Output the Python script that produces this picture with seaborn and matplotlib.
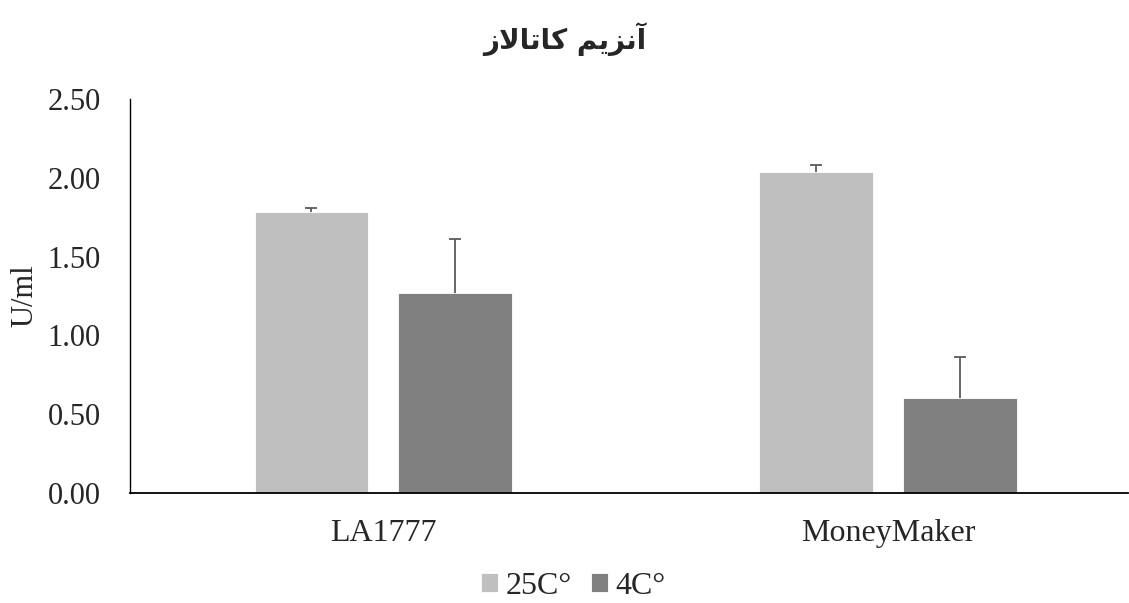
import matplotlib
matplotlib.use("Agg")
import matplotlib.pyplot as plt
import seaborn as sns
import pandas as pd
import numpy as np

# ---- data ----
categories = ["LA1777", "MoneyMaker"]
series = ["25C°", "4C°"]
values_25 = [1.78, 2.04]
values_4 = [1.27, 0.60]
err_25 = [0.03, 0.04]
err_4 = [0.34, 0.26]
yticks = [0.0, 0.5, 1.0, 1.5, 2.0, 2.5]
title_text = "آنزیم کاتالاز"
ylabel_text = "U/ml"
colors = ["#BFBFBF", "#808080"]


# minimal Arabic/Persian shaping (matplotlib has no complex text layout)
FORMS = {
    "\u0622": (0xFE81, 0xFE82, None, None),
    "\u0627": (0xFE8D, 0xFE8E, None, None),
    "\u0632": (0xFEAF, 0xFEB0, None, None),
    "\u0646": (0xFEE5, 0xFEE6, 0xFEE7, 0xFEE8),
    "\u06CC": (0xFBFC, 0xFBFD, 0xFBFE, 0xFBFF),
    "\u0645": (0xFEE1, 0xFEE2, 0xFEE3, 0xFEE4),
    "\u06A9": (0xFB8E, 0xFB8F, 0xFB90, 0xFB91),
    "\u062A": (0xFE95, 0xFE96, 0xFE97, 0xFE98),
    "\u0644": (0xFEDD, 0xFEDE, 0xFEDF, 0xFEE0),
    "LA": (0xFEFB, 0xFEFC, None, None),
}


def shape(text):
    toks = []
    i = 0
    while i < len(text):
        if text[i] == "\u0644" and i + 1 < len(text) and text[i + 1] == "\u0627":
            toks.append("LA")
            i += 2
        else:
            toks.append(text[i])
            i += 1
    out = []
    for k, t in enumerate(toks):
        if t not in FORMS:
            out.append(t)
            continue
        f = FORMS[t]
        prev = toks[k - 1] if k > 0 else None
        nxt = toks[k + 1] if k + 1 < len(toks) else None
        jp = prev in FORMS and FORMS[prev][2] is not None
        jn = f[2] is not None and nxt in FORMS
        if jp and jn:
            c = f[3]
        elif jp:
            c = f[1]
        elif jn:
            c = f[2]
        else:
            c = f[0]
        out.append(chr(c))
    return "".join(out[::-1])


df = pd.DataFrame({
    "cat": categories * 2,
    "series": [series[0]] * 2 + [series[1]] * 2,
    "val": values_25 + values_4,
})

sns.set_style("white")
plt.rcParams["font.family"] = ["Liberation Serif", "DejaVu Serif"]

fig = plt.figure(figsize=(11.29, 6.03), dpi=100)
ax = fig.add_axes([0.1151, 0.1824, 0.884, 0.6534])

sns.barplot(data=df, x="cat", y="val", hue="series", palette=colors,
            width=0.57, gap=0.21, ax=ax, errorbar=None,
            edgecolor="white", linewidth=0.6, saturation=1, zorder=2)

errs = [err_25, err_4]
for cont, e in zip(ax.containers, errs):
    xs = [b.get_x() + b.get_width() / 2 for b in cont]
    hs = [b.get_height() for b in cont]
    # symmetric bars drawn behind the columns, so only the upper half shows
    ax.errorbar(xs, hs, yerr=e, fmt="none", ecolor="#5A5A5A",
                elinewidth=1.3, capsize=4.5, capthick=1.3, zorder=1)

ax.set_ylim(0, 2.5)
ax.set_yticks(yticks)
ax.set_yticklabels([f"{t:.2f}" for t in yticks])
ax.set_xlim(-0.502, 1.475)
ax.tick_params(axis="both", length=0)
ax.tick_params(axis="y", pad=21, labelsize=22)
ax.tick_params(axis="x", pad=19, labelsize=23)
ax.set_xlabel("")
ax.set_ylabel(ylabel_text, fontsize=22, labelpad=6)
for s in ["top", "right"]:
    ax.spines[s].set_visible(False)
ax.spines["left"].set_color("black")
ax.spines["bottom"].set_color("black")
ax.spines["left"].set_linewidth(1.0)
ax.spines["bottom"].set_linewidth(1.3)

fig.text(0.5, 0.935, shape(title_text), ha="center", va="center",
         fontsize=20, fontweight="bold", family=["DejaVu Sans"])

ax.legend(loc="center", ncol=2, frameon=False, fontsize=23,
          handlelength=0.52, handleheight=0.52, handletextpad=0.25,
          columnspacing=0.6, title=None, borderpad=0.1)
leg = ax.get_legend()
leg.set_bbox_to_anchor((0.508, 0.028), transform=fig.transFigure)

fig.savefig("out.png", dpi=100)
